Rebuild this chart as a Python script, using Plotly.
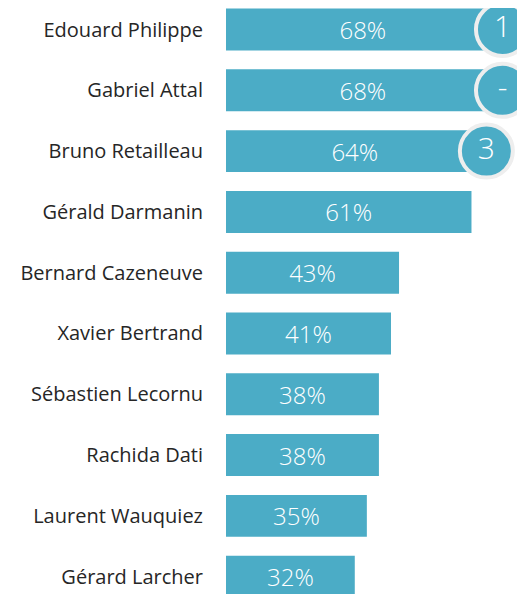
import plotly.graph_objects as go

# Popularity scores (%)
names = ["Edouard Philippe", "Gabriel Attal", "Bruno Retailleau", "Gérald Darmanin",
         "Bernard Cazeneuve", "Xavier Bertrand", "Sébastien Lecornu", "Rachida Dati",
         "Laurent Wauquiez", "Gérard Larcher"]
scores = [68, 68, 64, 61, 43, 41, 38, 38, 35, 32]

# Rank badges shown on the top three
badge_names = ["Edouard Philippe", "Gabriel Attal", "Bruno Retailleau"]
badge_scores = [68, 68, 64]
badge_labels = ["1", "-", "3"]

BLUE = "#4BACC6"

fig = go.Figure()

fig.add_trace(go.Bar(
    x=scores, y=names, orientation="h",
    marker=dict(color=BLUE, line=dict(width=0)),
    text=[f"{s}%" for s in scores],
    textposition="inside", insidetextanchor="middle", textangle=0,
    insidetextfont=dict(family="Open Sans", size=24, color="white", weight=300),
    hoverinfo="skip",
))

fig.add_trace(go.Scatter(
    x=[s + 0.7 for s in badge_scores], y=badge_names, mode="markers+text",
    marker=dict(size=53, color=BLUE, line=dict(color="#EEEEEE", width=4)),
    text=badge_labels, textposition="middle center",
    textfont=dict(family="Open Sans", size=30, color="white", weight=300),
    cliponaxis=False, hoverinfo="skip",
))

# page body has an 8px margin, so the figure sits 8px in from the corner
fig.update_layout(
    width=517, height=586,
    margin=dict(l=218, r=0, t=0, b=0),
    paper_bgcolor="white", plot_bgcolor="white",
    showlegend=False, bargap=0.31,
    font=dict(family="Open Sans", color="#262626"),
)
fig.update_xaxes(range=[0, 74.3], visible=False, fixedrange=True)
fig.update_yaxes(
    type="category", range=[9.285, -0.354],
    showgrid=False, zeroline=False, showline=False, ticks="",
    ticklabelstandoff=22, tickfont=dict(family="Open Sans", size=20, color="#262626"),
)

fig.write_html("out.html")
